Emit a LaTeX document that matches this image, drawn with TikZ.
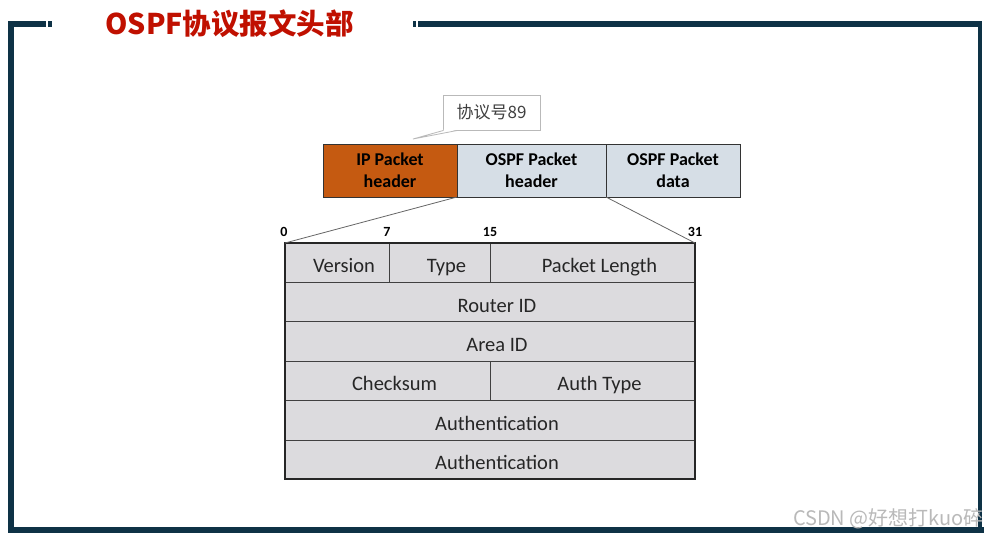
\documentclass[tikz,border=0pt]{standalone}
\usepackage{fontspec}
\setmainfont{Carlito}
\newfontfamily\cjk{Noto Sans CJK SC}
\usetikzlibrary{positioning}
\definecolor{frameblue}{RGB}{14,50,70}
\definecolor{titlered}{RGB}{192,16,0}
\definecolor{iporange}{RGB}{197,90,17}
\definecolor{ospfblue}{RGB}{214,222,230}
\definecolor{fieldgray}{RGB}{220,219,222}
\tikzset{
  frame/.style={draw=frameblue,line width=6pt},
  pkt/.style={rectangle,draw=black!80,line width=0.8pt,minimum height=53pt,
    inner sep=0pt,outer sep=0pt,align=center,
    font=\fontsize{18}{22}\selectfont\bfseries},
  field/.style={rectangle,draw=black!75,fill=fieldgray,line width=0.8pt,
    minimum height=39.4pt,inner sep=0pt,outer sep=0pt,anchor=north west,
    text height=20pt,text depth=0pt,
    font=\fontsize{20.5}{24}\selectfont,text=black!85,
    execute at begin node=\hspace*{14pt}},
  bitno/.style={font=\fontsize{14}{16}\selectfont\bfseries,inner sep=0pt},
  link/.style={draw=black!60,line width=0.8pt},
  callline/.style={draw=gray!55,line width=0.8pt}
}
\begin{document}
\begin{tikzpicture}[x=1pt,y=-1pt]
  \useasboundingbox[fill=white] (0,0) rectangle (986,536);
  % frame
  \draw[frame] (8,24) -- (46,24);
  \draw[frame] (48,24) -- (52,24);
  \draw[frame] (11,21) -- (11,531);
  \draw[frame] (8,530) -- (984,530);
  \draw[frame] (413,24) -- (416,24);
  \draw[frame] (418,24) -- (982,24);
  \draw[frame,line width=4pt] (980,22) -- (980,528);
  \node[font=\cjk\bfseries\fontsize{28.5}{32}\selectfont,text=titlered,anchor=west]
    (title) at (102,24) {OSPF协议报文头部};

  % packet
  \node[pkt,fill=iporange,minimum width=134pt,anchor=north west] (iph) at (323,144) {IP Packet\\header};
  \node[pkt,fill=ospfblue,minimum width=149pt,right=0pt of iph] (oh) {OSPF Packet\\header};
  \node[pkt,fill=ospfblue,minimum width=134pt,right=0pt of oh] (od) {OSPF Packet\\data};

  % callout
  \node[font=\cjk\fontsize{17}{20}\selectfont,text=black!75,minimum width=97pt,
    minimum height=35pt,inner sep=0pt,draw=gray!55,line width=0.8pt,fill=white]
    (proto) at (491.5,112.5) {协议号89};
  \coordinate (tip) at (413,139);
  \fill[white] ([xshift=1pt,yshift=0.6pt]proto.south west) -- (tip)
    -- ([xshift=15pt,yshift=0.6pt]proto.south west) -- cycle;
  \draw[callline] ([xshift=1pt]proto.south west) -- (tip) -- ([xshift=15pt]proto.south west);

  % header fields
  \node[field,minimum width=104pt] (ver) at (285,243) {Version};
  \node[field,minimum width=101pt,right=0pt of ver] (typ) {Type};
  \node[field,minimum width=205pt,right=0pt of typ] (plen) {Packet Length};
  \node[field,minimum width=410pt] (rid) at (ver.south west) {Router ID};
  \node[field,minimum width=410pt] (aid) at (rid.south west) {Area ID};
  \node[field,minimum width=205pt] (cks) at (aid.south west) {Checksum};
  \node[field,minimum width=205pt,right=0pt of cks] (aut) {Auth Type};
  \node[field,minimum width=410pt] (auth1) at (cks.south west) {Authentication};
  \node[field,minimum width=410pt] (auth2) at (auth1.south west) {Authentication};
  \draw[line width=2pt,black!85] (ver.north west) rectangle (auth2.south east);

  % bit numbers
  \node[bitno,above=6pt of ver.north west,xshift=-1pt] (b0) {0};
  \node[bitno,above=6pt of ver.north east,xshift=-2pt] (b7) {7};
  \node[bitno,above=6pt of typ.north east] (b15) {15};
  \node[bitno,above=6pt of plen.north east] (b31) {31};

  % zoom lines
  \draw[link] (oh.south west) -- (ver.north west);
  \draw[link] (oh.south east) -- (plen.north east);

  \node[font=\cjk\fontsize{20}{22}\selectfont,text=gray!55,anchor=east,inner sep=0pt]
    (mark) at (984,519) {CSDN @好想打kuo碎};
\end{tikzpicture}
\end{document}
